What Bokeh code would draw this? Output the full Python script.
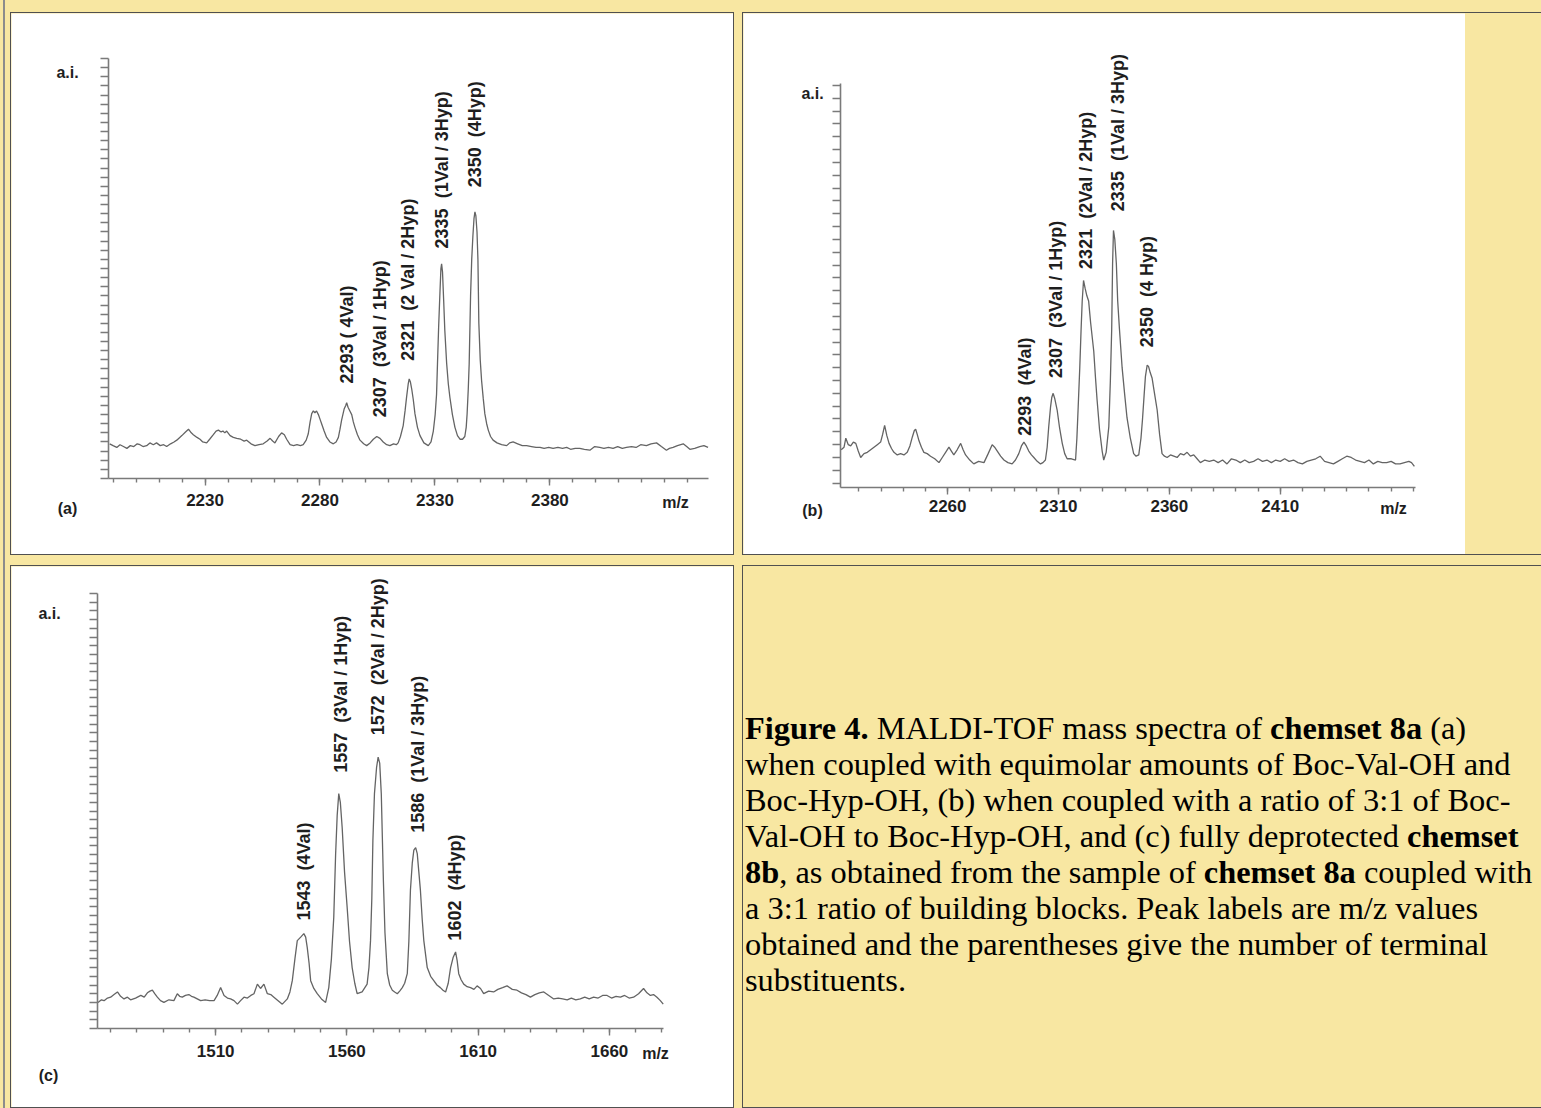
from math import pi
from bokeh.plotting import figure
from bokeh.models import FixedTicker, Div, Range1d, CustomJSTickFormatter
from bokeh.layouts import row, column
from bokeh.embed import file_html
from bokeh.resources import INLINE
from bokeh.core.properties import value

# ---------------- data ----------------
# panel (a): (m/z, intensity in a.i. units)
spec_a = [(2188.5, 3.8), (2190, 3.6), (2191.6, 3.4), (2193, 3.7), (2194.5, 3.5), (2196, 3.3), (2197.5, 3.6),
          (2199, 3.5), (2200.5, 3.8), (2201.7, 3.7), (2203, 3.5), (2204.6, 3.6), (2206, 3.9), (2207.5, 3.7),
          (2208.9, 3.9), (2210.5, 3.6), (2212, 3.7), (2213.3, 3.5), (2215, 3.8), (2216.5, 4.0), (2217.7, 4.2),
          (2219, 4.5), (2219.9, 4.7), (2221.5, 5.1), (2222.8, 5.4), (2224, 5.0), (2224.9, 4.8), (2226.5, 4.5),
          (2227.8, 4.3), (2229, 4.0), (2230.7, 3.9), (2232, 4.3), (2233.6, 4.8), (2234.8, 5.2), (2235.8, 5.3),
          (2237, 5.1), (2237.8, 5.2), (2238.6, 5.0), (2239.4, 5.2), (2240.9, 4.7), (2242.3, 4.5), (2243.8, 4.4),
          (2245.5, 4.3), (2247, 4.1), (2248.1, 4.2), (2250, 3.8), (2251.7, 3.6), (2253.5, 3.7), (2255.3, 3.8),
          (2257, 4.1), (2258.3, 4.4), (2259.4, 4.1), (2260.4, 3.9), (2262, 4.6), (2263.3, 5.0), (2264.5, 4.8),
          (2265.5, 4.3), (2267, 3.7), (2268.5, 3.6), (2270, 3.7), (2271.5, 3.6), (2272.7, 3.7), (2274, 4.2),
          (2274.9, 4.9), (2275.7, 6.2), (2276.4, 7.1), (2277.1, 7.4), (2277.8, 7.2), (2278.5, 7.4), (2279.3, 7.0),
          (2280, 6.5), (2280.7, 6.0), (2281.8, 5.2), (2282.9, 4.5), (2284.3, 4.0), (2285.8, 3.8), (2287, 4.0),
          (2288, 4.5), (2288.7, 5.4), (2289.4, 6.4), (2290.5, 7.6), (2291.2, 8.0), (2291.6, 8.3), (2292.2, 7.8),
          (2293, 7.4), (2293.8, 7.0), (2294.5, 6.2), (2295.2, 5.6), (2296.3, 4.8), (2297.4, 4.2), (2299, 3.8),
          (2300.3, 3.6), (2301.8, 3.9), (2303.2, 4.3), (2304.7, 4.6), (2306.1, 4.4), (2307.5, 4.0), (2309, 3.7),
          (2310.4, 3.6), (2312, 3.8), (2313.2, 3.7), (2314, 3.9), (2315, 4.6), (2316.2, 5.8), (2317, 7.4),
          (2317.7, 9.0), (2318.4, 10.4), (2318.8, 10.9), (2319.3, 10.6), (2319.9, 9.8), (2320.6, 8.6),
          (2321.3, 7.1), (2322.4, 5.6), (2323.5, 4.7), (2325.2, 3.9), (2327.1, 3.6), (2328.3, 4.0), (2329.3, 5.2),
          (2330.1, 7.0), (2330.7, 9.2), (2331.1, 12.5), (2331.6, 16.5), (2332.2, 20.5), (2332.6, 23.0),
          (2332.9, 23.5), (2333.3, 22.6), (2333.8, 19.5), (2334.3, 16.2), (2335.1, 12.6), (2335.8, 10.4),
          (2336.5, 8.9), (2337.6, 7.0), (2338.7, 5.6), (2339.8, 4.7), (2340.9, 4.3), (2342, 4.3), (2343, 4.6),
          (2343.6, 5.6), (2344, 7.1), (2344.5, 9.8), (2344.9, 12.6), (2345.5, 20.0), (2346, 24.0), (2346.5, 26.5),
          (2347, 28.5), (2347.4, 29.2), (2347.8, 28.8), (2348.3, 27.0), (2348.7, 24.0), (2349.1, 17.0),
          (2349.7, 13.0), (2350.3, 10.7), (2351, 8.8), (2351.7, 7.1), (2352.5, 6.0), (2353.2, 5.3), (2354.2, 4.6),
          (2355.3, 4.2), (2357, 3.9), (2359, 3.7), (2361.2, 3.6), (2362.5, 3.9), (2364, 4.0), (2366, 3.8),
          (2368, 3.6), (2369.9, 3.6), (2372, 3.5), (2374, 3.4), (2375.7, 3.4), (2377.5, 3.3), (2379.5, 3.4),
          (2381.4, 3.3), (2383.5, 3.4), (2385.5, 3.3), (2387.3, 3.4), (2389, 3.2), (2391, 3.3), (2393, 3.3),
          (2395, 3.2), (2397.4, 3.1), (2399.5, 3.5), (2401.7, 3.4), (2403.5, 3.3), (2405.5, 3.4), (2407.5, 3.3),
          (2409.5, 3.5), (2411.5, 3.3), (2413.3, 3.4), (2415.5, 3.5), (2417.5, 3.4), (2419.5, 3.7), (2422, 3.6),
          (2424, 3.8), (2426.4, 3.9), (2428.5, 3.5), (2430.7, 3.1), (2432, 3.3), (2433.6, 3.4), (2435.5, 3.6),
          (2438, 3.8), (2439.5, 3.5), (2440.9, 3.2), (2443, 3.3), (2445.2, 3.5), (2447, 3.6), (2448.8, 3.4)]
labels_a = ["2293 ( 4Val)", "2307\u00a0 (3Val / 1Hyp)", "2321\u00a0 (2 Val / 2Hyp)",
            "2335\u00a0 (1Val / 3Hyp)", "2350\u00a0 (4Hyp)"]
label_mz_a = [2291.6, 2306.1, 2318.3, 2333.0, 2347.4]
label_base_a = [10.4, 6.7, 12.9, 25.2, 31.9]
ticks_a = [2230, 2280, 2330, 2380]
minor_a = list(range(2190, 2450, 10))
yticks_a = list(range(0, 47))

# panel (b)
spec_b = [(2212, 2.6), (2213.3, 2.8), (2214.1, 3.5), (2215.2, 3.0), (2216.3, 2.9), (2217.5, 3.2), (2218.6, 3.1),
          (2219.7, 2.5), (2220.8, 2.0), (2222.3, 2.3), (2223.8, 2.4), (2225.3, 2.6), (2226.8, 2.8), (2228.3, 3.0),
          (2229.8, 3.2), (2230.7, 3.8), (2231.6, 4.5), (2232.6, 3.7), (2233.6, 3.1), (2234.7, 2.7), (2235.8, 2.4),
          (2237.3, 2.2), (2238.8, 2.3), (2240.3, 2.2), (2241.8, 2.4), (2243, 2.9), (2244.1, 3.6), (2245, 4.1),
          (2245.6, 4.2), (2246.3, 3.8), (2247.1, 3.3), (2248.2, 2.8), (2249.3, 2.4), (2250.8, 2.3), (2252.3, 2.1),
          (2254.2, 1.9), (2256.1, 1.6), (2257.6, 2.0), (2259.1, 2.4), (2260.6, 2.8), (2261.7, 2.5), (2262.8, 2.2),
          (2264.3, 2.6), (2265.9, 3.1), (2267, 2.6), (2268.1, 2.2), (2270, 1.8), (2271.8, 1.5), (2274, 1.7),
          (2276.4, 1.6), (2278.3, 2.3), (2280.1, 3.0), (2281.2, 2.8), (2282.4, 2.5), (2283.9, 2.1), (2285.4, 1.8),
          (2287.2, 1.6), (2289.1, 1.5), (2290.6, 1.8), (2292.1, 2.3), (2293.3, 2.9), (2294.4, 3.2), (2295.5, 2.9),
          (2296.6, 2.5), (2297.8, 2.2), (2298.9, 2.0), (2300.4, 1.7), (2301.9, 1.5), (2303, 1.6), (2304.1, 1.8),
          (2304.9, 2.8), (2305.6, 4.4), (2306.4, 5.9), (2307, 6.7), (2307.6, 7.0), (2308.3, 6.6), (2309.4, 5.7),
          (2310.5, 4.3), (2311.7, 3.1), (2312.8, 2.3), (2313.9, 1.9), (2315.8, 1.9), (2317.7, 1.8), (2318.3, 3.5),
          (2318.9, 6.0), (2319.6, 9.0), (2320.2, 12.0), (2320.7, 14.2), (2321.3, 15.8), (2322, 15.2),
          (2322.8, 14.6), (2323.6, 14.2), (2324.5, 12.5), (2325.9, 10.3), (2326.7, 8.2), (2327.4, 6.5),
          (2328.5, 4.2), (2329.7, 2.5), (2330.4, 1.8), (2331.5, 2.4), (2332.7, 4.4), (2333.4, 8.0), (2334.0, 12.0),
          (2334.4, 17.1), (2334.8, 19.7), (2335.4, 19.0), (2336.1, 17.1), (2336.7, 14.2), (2337.5, 12.0),
          (2338.7, 9.0), (2339.8, 7.0), (2340.9, 5.1), (2342.4, 3.5), (2343.9, 2.3), (2345, 2.1), (2346.2, 2.2),
          (2347.2, 3.5), (2347.9, 5.0), (2348.6, 6.8), (2349.2, 8.3), (2350.0, 9.2), (2350.6, 9.1), (2351.4, 8.6),
          (2352.2, 8.2), (2353.3, 7.0), (2354.5, 5.7), (2355.6, 3.8), (2356.7, 2.3), (2357.8, 2.1), (2359, 2.0),
          (2360.5, 2.2), (2362, 2.1), (2363.5, 2.0), (2365, 2.3), (2366.5, 2.2), (2368, 2.4), (2369.5, 2.1),
          (2371, 2.2), (2372.5, 1.9), (2374, 1.6), (2376, 1.8), (2378, 1.7), (2380, 1.8), (2382, 1.6), (2384, 1.8),
          (2386, 1.5), (2388, 1.9), (2390, 1.8), (2392, 1.6), (2394, 1.8), (2396, 1.6), (2398, 1.7), (2400, 1.9),
          (2402, 1.7), (2404, 1.8), (2406, 1.6), (2408, 1.8), (2410, 1.7), (2412, 1.9), (2414, 1.7), (2416, 1.8),
          (2418, 1.6), (2420, 1.5), (2422, 1.7), (2424, 1.8), (2426, 1.9), (2428, 2.1), (2430, 1.7), (2432, 1.6),
          (2434, 1.5), (2436, 1.7), (2438, 1.9), (2440, 2.1), (2442, 2.0), (2444, 1.8), (2446, 1.7), (2448, 1.6),
          (2450, 1.8), (2452, 1.5), (2454, 1.7), (2456, 1.6), (2458, 1.6), (2460, 1.7), (2462, 1.5), (2464, 1.5),
          (2466, 1.6), (2468, 1.7), (2469.2, 1.6), (2470.5, 1.3)]
labels_b = ["2293\u00a0 (4Val)", "2307\u00a0 (3Val / 1Hyp)", "2321\u00a0 (2Val / 2Hyp)",
            "2335\u00a0 (1Val / 3Hyp)", "2350\u00a0 (4 Hyp)"]
label_mz_b = [2295.1, 2309.1, 2322.2, 2337.0, 2350.1]
label_base_b = [3.7, 8.2, 16.7, 21.2, 10.6]
ticks_b = [2260, 2310, 2360, 2410]
minor_b = list(range(2220, 2471, 10))
yticks_b = list(range(0, 32))

# panel (c)
spec_c = [(1465.2, 3.0), (1466.5, 3.3), (1467.5, 3.2), (1468.8, 3.5), (1470, 3.6), (1471.3, 3.9), (1472.6, 4.2),
          (1473.8, 3.7), (1475.1, 3.4), (1476.4, 3.6), (1477.6, 3.3), (1479.5, 3.5), (1481.5, 3.8), (1482.8, 3.6),
          (1484, 4.1), (1485, 4.3), (1485.9, 4.4), (1486.8, 4.0), (1487.8, 3.6), (1489, 3.2), (1490.3, 3.0),
          (1492.2, 3.3), (1494.1, 3.2), (1495.4, 4.0), (1496.3, 3.7), (1497.3, 3.6), (1498.5, 3.8), (1499.8, 3.9),
          (1500.8, 3.7), (1501.7, 3.6), (1503, 3.4), (1504.3, 3.2), (1506, 3.3), (1507.7, 3.2), (1509.4, 3.2),
          (1510.6, 3.8), (1511.9, 4.7), (1513.2, 3.8), (1514.5, 3.5), (1515.7, 3.4), (1517, 3.2), (1518.3, 2.8),
          (1519.5, 3.2), (1520.8, 3.6), (1522.1, 3.5), (1523.4, 3.8), (1524.6, 4.0), (1525.9, 5.1), (1527.1, 4.6),
          (1528.4, 5.1), (1529.7, 4.0), (1531, 3.9), (1532.2, 3.6), (1533.8, 3.2), (1535.4, 2.8), (1537.3, 3.4),
          (1538.3, 4.2), (1539.2, 5.5), (1540.2, 8.0), (1541.1, 10.1), (1542.4, 10.5), (1543.6, 10.9),
          (1544.3, 10.5), (1544.9, 9.3), (1545.6, 7.5), (1546.2, 5.5), (1547.4, 4.6), (1548.7, 4.0), (1550.3, 3.4),
          (1551.9, 3.0), (1553.1, 4.7), (1554.1, 8.0), (1555.0, 12.8), (1555.7, 20.0), (1556.3, 24.5),
          (1556.9, 27.0), (1557.5, 26.0), (1558.2, 23.1), (1559.1, 18.0), (1560.1, 13.9), (1561, 10.0),
          (1562, 7.0), (1563, 5.2), (1563.9, 4.0), (1565.8, 4.2), (1567.7, 5.1), (1568.4, 7.0), (1569.0, 10.1),
          (1569.5, 15.0), (1569.9, 21.6), (1570.5, 27.0), (1571.3, 30.0), (1571.9, 31.2), (1572.5, 30.5),
          (1573.1, 27.0), (1573.5, 22.0), (1573.9, 17.0), (1574.5, 11.0), (1575.4, 6.3), (1576.3, 5.0),
          (1577.3, 4.4), (1578.2, 4.2), (1579.2, 4.0), (1580.1, 4.3), (1581.1, 4.7), (1582, 5.2), (1583.0, 6.3),
          (1583.6, 10.0), (1584.2, 15.9), (1584.9, 19.0), (1585.5, 20.5), (1586.2, 20.8), (1586.8, 20.1),
          (1587.4, 18.0), (1588.0, 15.9), (1588.7, 12.5), (1589.3, 10.1), (1590.6, 7.0), (1591.9, 6.0),
          (1593.1, 5.5), (1594.3, 5.0), (1595.6, 4.7), (1596.6, 4.4), (1597.6, 4.2), (1598.6, 5.2), (1599.5, 7.0),
          (1600.5, 8.2), (1601.4, 8.8), (1602.0, 7.8), (1602.6, 6.3), (1603.5, 5.6), (1604.5, 5.1), (1605.8, 4.8),
          (1607.1, 4.7), (1608.4, 4.5), (1609.6, 4.9), (1610.9, 4.6), (1612.1, 4.0), (1614, 4.3), (1615.9, 4.2),
          (1617.5, 4.5), (1619.3, 4.7), (1621.0, 4.9), (1623, 4.5), (1624.8, 4.4), (1626.5, 4.1), (1628.2, 3.9),
          (1629.9, 3.6), (1631.6, 3.9), (1633.3, 4.1), (1635.0, 4.2), (1636.9, 3.8), (1638.8, 3.4), (1640.5, 3.5),
          (1642.2, 3.4), (1643.9, 3.3), (1645.5, 3.5), (1647.2, 3.3), (1648.9, 3.4), (1650.6, 3.6), (1652.3, 3.4),
          (1654.0, 3.6), (1655.7, 3.5), (1657.4, 3.8), (1659.1, 3.8), (1660.8, 3.5), (1662.5, 3.7), (1664.2, 3.6),
          (1665.8, 3.8), (1667.5, 3.5), (1669.2, 3.6), (1671.1, 4.0), (1673.0, 4.6), (1674.3, 4.1), (1675.6, 3.8),
          (1676.8, 3.9), (1678.1, 3.6), (1679.4, 3.2), (1680.5, 2.8)]
labels_c = ["1543\u00a0 (4Val)", "1557\u00a0 (3Val / 1Hyp)", "1572\u00a0 (2Val / 2Hyp)",
            "1586\u00a0 (1Val / 3Hyp)", "1602\u00a0 (4Hyp)"]
label_mz_c = [1543.5, 1557.6, 1572.0, 1586.9, 1601.0]
label_base_c = [12.4, 29.4, 33.7, 22.5, 10.1]
ticks_c = [1510, 1560, 1610, 1660]
minor_c = list(range(1470, 1681, 10))
yticks_c = list(range(0, 51))

caption_lines = [
    "<b>Figure 4.</b> MALDI-TOF mass spectra of <b>chemset 8a</b> (a)",
    "when coupled with equimolar amounts of Boc-Val-OH and",
    "Boc-Hyp-OH, (b) when coupled with a ratio of 3:1 of Boc-",
    "Val-OH to Boc-Hyp-OH, and (c) fully deprotected <b>chemset</b>",
    "<b>8b</b>, as obtained from the sample of <b>chemset 8a</b> coupled with",
    "a 3:1 ratio of building blocks. Peak labels are m/z values",
    "obtained and the parentheses give the number of terminal",
    "substituents.",
]

# ---------------- style ----------------
YELLOW = "#F8E7A2"
AXC = "#7a7a7a"
TXT = "#1e1e1e"
LINEC = "#646464"
FONT = "Liberation Sans"
CELL_BORDER = "0 0 0 1px #505050"
W, H = 722, 541


def make_panel(spec, ax_x, ax_y, px_x, px_y, major, minor, yticks,
               lab_mz, lab_base, lab_txt, tag, px_ai, px_tag, px_mz, standoff):
    # axis data extents and their pixel positions inside the cell (origin top-left)
    x0, x1 = ax_x
    y0, y1 = ax_y
    cx0, cx1 = px_x
    cyb, cyt = px_y
    xs = (cx1 - cx0) / (x1 - x0)
    ys = (cyb - cyt) / (y1 - y0)
    xr = (x0 - cx0 / xs, x1 + (W - cx1) / xs)
    yr = (y0 - (H - cyb) / ys, y1 + cyt / ys)

    def at(px, py):
        return x0 + (px - cx0) / xs, y0 + (cyb - py) / ys

    p = figure(width=W, height=H, x_range=Range1d(*xr), y_range=Range1d(*yr),
               output_backend="svg", toolbar_location=None,
               min_border_left=0, min_border_right=0, min_border_top=0, min_border_bottom=0,
               background_fill_color="white", border_fill_color="white", outline_line_color=None)
    p.xgrid.visible = False
    p.ygrid.visible = False

    xa = p.xaxis[0]
    xa.fixed_location = y0
    xa.bounds = (x0, x1)
    xa.ticker = FixedTicker(ticks=major, minor_ticks=minor)
    xa.axis_line_color = AXC
    xa.axis_line_width = 1.6
    xa.major_tick_line_color = AXC
    xa.minor_tick_line_color = AXC
    xa.major_tick_line_width = 1.4
    xa.minor_tick_line_width = 1.4
    xa.major_tick_out = 7
    xa.major_tick_in = 0
    xa.minor_tick_out = 4
    xa.minor_tick_in = 0
    xa.major_label_standoff = standoff
    xa.major_label_text_font = FONT
    xa.major_label_text_font_style = "bold"
    xa.major_label_text_font_size = "17px"
    xa.major_label_text_color = TXT

    ya = p.yaxis[0]
    ya.fixed_location = x0
    ya.bounds = (y0, y1)
    ya.ticker = FixedTicker(ticks=yticks, minor_ticks=[])
    ya.formatter = CustomJSTickFormatter(code="return ''")
    ya.axis_line_color = AXC
    ya.axis_line_width = 1.6
    ya.major_tick_line_color = AXC
    ya.major_tick_line_width = 1.4
    ya.major_tick_out = 8
    ya.major_tick_in = 0
    ya.minor_tick_line_color = None

    mz = [t[0] for t in spec]
    inten = [t[1] for t in spec]
    p.line(mz, inten, line_color=LINEC, line_width=1.3)

    p.text(x=lab_mz, y=lab_base, text=lab_txt, angle=pi / 2,
           text_align="left", text_baseline="middle",
           text_font=value(FONT), text_font_style="bold", text_font_size="18px", text_color=TXT)

    pts = [at(*px_ai), at(*px_tag), at(*px_mz)]
    p.text(x=[q[0] for q in pts], y=[q[1] for q in pts], text=["a.i.", tag, "m/z"],
           text_align="center", text_baseline="middle",
           text_font=value(FONT), text_font_style="bold", text_font_size="16px", text_color=TXT)
    return p


fig_a = make_panel(spec_a, (2188, 2449), (0, 46), (97, 697), (465, 45), ticks_a, minor_a, yticks_a,
                   label_mz_a, label_base_a, labels_a, "(a)", (56, 59), (56, 495), (664, 489), 8)
fig_b = make_panel(spec_b, (2211.7, 2471), (-0.34, 31.15), (97, 672), (474, 70), ticks_b, minor_b, yticks_b,
                   label_mz_b, label_base_b, labels_b, "(b)", (69, 80), (69, 497), (650, 495), 5)
fig_c = make_panel(spec_c, (1465, 1680.6), (0, 50), (86, 652), (462, 27), ticks_c, minor_c, yticks_c,
                   label_mz_c, label_base_c, labels_c, "(c)", (38, 47), (37, 509), (644, 487), 9)

fig_a.styles = {"box-shadow": CELL_BORDER}
fig_c.styles = {"box-shadow": CELL_BORDER}

cell_b = row(fig_b, width=798, height=541,
             styles={"background-color": YELLOW, "box-shadow": CELL_BORDER})

cap_html = ('<div style="font-family:\'Liberation Serif\',\'Times New Roman\',serif;font-size:32.4px;'
            'line-height:36px;color:#000;padding:144px 0 0 2px;white-space:nowrap;">'
            + "<br>".join(caption_lines) + "</div>")
cell_d = Div(text=cap_html, width=798, height=541, margin=0,
             styles={"background-color": YELLOW, "box-shadow": CELL_BORDER})

top_row = row(fig_a, cell_b, spacing=10, margin=(13, 0, 0, 11))
bottom_row = row(fig_c, cell_d, spacing=10, margin=(0, 0, 0, 11))

root = column(top_row, bottom_row, spacing=12, width=1541, height=1108,
              styles={"background": "linear-gradient(to right, #F8E7A2 0px, #F8E7A2 3px, #8c8c8c 3px, "
                                    "#8c8c8c 5px, #F8E7A2 5px, #F8E7A2 100%)"})

with open("out.html", "w") as f:
    f.write(file_html(root, INLINE, title="Figure 4"))
